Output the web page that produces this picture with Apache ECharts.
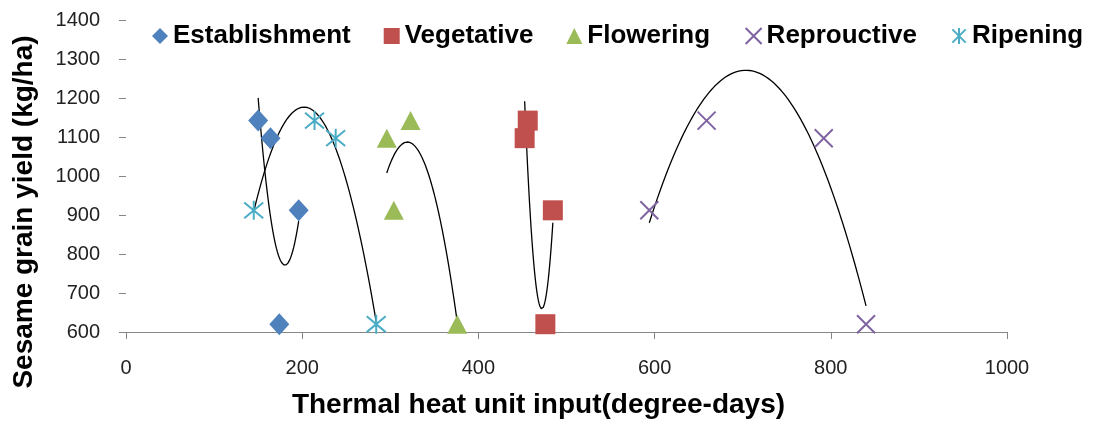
<!DOCTYPE html>
<html>
<head>
<meta charset="utf-8">
<script src="https://cdn.jsdelivr.net/npm/echarts@6/dist/echarts.min.js"></script>
<style>
  html, body { margin: 0; padding: 0; background: #fff; }
  #chart { width: 1097px; height: 421px; }
</style>
</head>
<body>
<div id="chart"></div>
<script>
// Growth stages and their heat-unit / yield observations
const stageNames = ['Establishment', 'Vegetative', 'Flowering', 'Reproductive', 'Ripening'];
const legendLabels = ['Establishment', 'Vegetative', 'Flowering', 'Reprouctive', 'Ripening'];

const establishmentX = [150, 164, 174, 196];
const establishmentY = [1142, 1097, 620, 912];

const vegetativeX = [456, 452.5, 476, 484.5];
const vegetativeY = [1142, 1097, 620, 912];

const floweringX = [323, 296, 376, 304];
const floweringY = [1142, 1097, 620, 912];

const reproductiveX = [659, 792, 840, 594];
const reproductiveY = [1142, 1097, 620, 912];

const ripeningX = [214, 238, 284, 145];
const ripeningY = [1142, 1097, 620, 912];

const xTicks = [0, 200, 400, 600, 800, 1000];
const yTicks = [600, 700, 800, 900, 1000, 1100, 1200, 1300, 1400];

const stageX = [establishmentX, vegetativeX, floweringX, reproductiveX, ripeningX];
const stageY = [establishmentY, vegetativeY, floweringY, reproductiveY, ripeningY];

const colors = ['#4F81BD', '#C0504D', '#9BBB59', '#8064A2', '#4BACC6'];
const crossPath = 'path://M0,0L10,10M10,0L0,10';
const starPath = 'path://M0,0L10,10M10,0L0,10M5,-1L5,11';

// Least-squares second-order polynomial trendline for one stage
function quadFit(xs, ys) {
  const n = xs.length;
  const m = xs.reduce((s, v) => s + v, 0) / n;
  let S = [0, 0, 0, 0, 0], T = [0, 0, 0];
  xs.forEach((x, i) => {
    const u = x - m;
    for (let k = 0; k <= 4; k++) S[k] += Math.pow(u, k);
    for (let k = 0; k <= 2; k++) T[k] += Math.pow(u, k) * ys[i];
  });
  const A = [[S[0], S[1], S[2], T[0]], [S[1], S[2], S[3], T[1]], [S[2], S[3], S[4], T[2]]];
  for (let c = 0; c < 3; c++) {
    for (let r = c + 1; r < 3; r++) {
      const f = A[r][c] / A[c][c];
      for (let k = c; k < 4; k++) A[r][k] -= f * A[c][k];
    }
  }
  const coef = [0, 0, 0];
  for (let r = 2; r >= 0; r--) {
    let s = A[r][3];
    for (let k = r + 1; k < 3; k++) s -= A[r][k] * coef[k];
    coef[r] = s / A[r][r];
  }
  const lo = Math.min(...xs), hi = Math.max(...xs);
  const pts = [];
  const steps = 80;
  for (let i = 0; i <= steps; i++) {
    const x = lo + (hi - lo) * i / steps;
    const u = x - m;
    pts.push([x, coef[0] + coef[1] * u + coef[2] * u * u]);
  }
  return pts;
}

const symbols = [
  { symbol: 'diamond', symbolSize: [20, 22], itemStyle: { color: colors[0], opacity: 1 } },
  { symbol: 'rect', symbolSize: 20, itemStyle: { color: colors[1], opacity: 1 } },
  { symbol: 'triangle', symbolSize: [20, 19], itemStyle: { color: colors[2], opacity: 1 } },
  { symbol: crossPath, symbolSize: 18, itemStyle: { color: 'none', borderColor: colors[3], borderWidth: 2, opacity: 1 } },
  { symbol: starPath, symbolSize: 19, itemStyle: { color: 'none', borderColor: colors[4], borderWidth: 2, opacity: 1 } }
];

const series = [];
// trendlines first so markers sit on top
stageNames.forEach((name, i) => {
  series.push({
    name: name + ' trend',
    type: 'line',
    data: quadFit(stageX[i], stageY[i]),
    showSymbol: false,
    symbol: 'none',
    smooth: false,
    silent: true,
    lineStyle: { color: '#000', width: 1.3 },
    z: 2
  });
});
stageNames.forEach((name, i) => {
  series.push(Object.assign({
    name: legendLabels[i],
    type: 'scatter',
    data: stageX[i].map((x, j) => [x, stageY[i][j]]),
    z: 3
  }, symbols[i]));
});

const chart = echarts.init(document.getElementById('chart'), null, { renderer: 'canvas' });
chart.setOption({
  animation: false,
  backgroundColor: '#fff',
  textStyle: { fontFamily: 'Liberation Sans, Arial, sans-serif' },
  legend: {
    data: legendLabels,
    top: 18,
    left: 147,
    itemGap: 33,
    itemWidth: 16,
    itemHeight: 16,
    textStyle: { fontSize: 26, fontWeight: 'bold', color: '#000', fontFamily: 'Liberation Sans, Arial, sans-serif' }
  },
  grid: { left: 126, right: 90, top: 20, bottom: 89, containLabel: false, outerBoundsMode: 'none' },
  xAxis: {
    type: 'value',
    min: xTicks[0],
    max: xTicks[xTicks.length - 1],
    interval: 200,
    splitLine: { show: false },
    axisLine: { show: true, lineStyle: { color: '#868686', width: 1 } },
    axisTick: { show: true, length: 7, lineStyle: { color: '#868686' } },
    axisLabel: { fontSize: 20, color: '#222', margin: 26, formatter: v => String(v) },
    name: 'Thermal heat unit input(degree-days)',
    nameLocation: 'middle',
    nameGap: 59,
    nameTextStyle: { fontSize: 28, fontWeight: 'bold', color: '#000', padding: [0, 56, 0, 0] }
  },
  yAxis: {
    type: 'value',
    min: yTicks[0],
    max: yTicks[yTicks.length - 1],
    interval: 100,
    splitLine: { show: false },
    axisLine: { show: false },
    axisTick: { show: true, length: 7, lineStyle: { color: '#868686' } },
    axisLabel: { fontSize: 20, color: '#222', margin: 26, formatter: v => String(v) },
    name: 'Sesame grain yield (kg/ha)',
    nameLocation: 'middle',
    nameGap: 88,
    nameTextStyle: { fontSize: 28, fontWeight: 'bold', color: '#000', padding: [0, 72, 0, 0] }
  },
  series: series
});
</script>
</body>
</html>
